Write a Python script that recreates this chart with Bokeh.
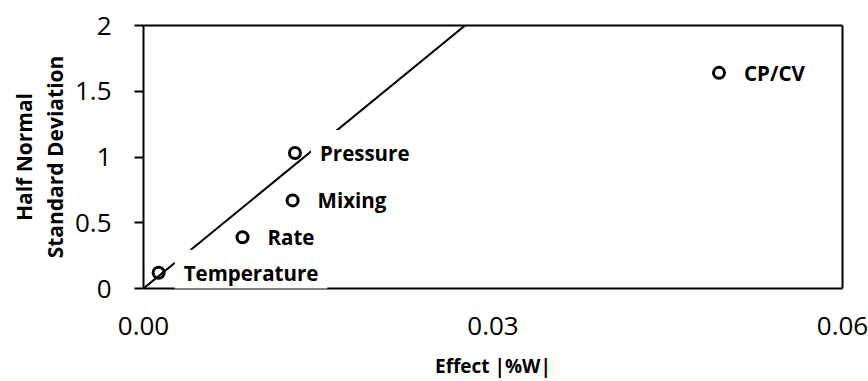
from bokeh.plotting import figure
from bokeh.models import ColumnDataSource, Label, Range1d, LinearAxis, FixedTicker
from bokeh.embed import file_html
from bokeh.resources import INLINE

# ---- data ----
factors = ["Temperature", "Rate", "Mixing", "Pressure", "CP/CV"]
effect = [0.0013, 0.0085, 0.0128, 0.0130, 0.0494]
half_normal = [0.12, 0.39, 0.67, 1.03, 1.64]
line_x = [0.0, 0.0276]
line_y = [0.0, 2.0]
x_ticks = [0.0, 0.03, 0.06]
x_tick_labels = ["0.00", "0.03", "0.06"]
y_ticks = [0, 0.5, 1, 1.5, 2]
y_tick_labels = ["0", "0.5", "1", "1.5", "2"]

FONT = "Open Sans"

src = ColumnDataSource(dict(x=effect, y=half_normal, name=factors))

p = figure(width=868, height=381, x_range=Range1d(0, 0.06), y_range=Range1d(0, 2),
           output_backend="svg", toolbar_location=None,
           min_border_left=143, min_border_right=26, min_border_top=25, min_border_bottom=93)
p.outline_line_color = None
p.xgrid.visible = False
p.ygrid.visible = False
p.background_fill_color = "white"
p.border_fill_color = "white"

# markers
p.scatter("x", "y", source=src, marker="circle", size=11, fill_color=None,
          line_color="black", line_width=3)
# reference line
p.line(line_x, line_y, line_color="black", line_width=2)

# axes
xa = p.xaxis[0]
xa.ticker = FixedTicker(ticks=x_ticks)
xa.major_label_overrides = {t: l for t, l in zip(x_ticks, x_tick_labels)}
xa.major_tick_out = 0
xa.major_tick_in = 0
xa.minor_tick_out = 0
xa.minor_tick_in = 0
xa.axis_line_color = "black"
xa.axis_line_width = 2
xa.major_label_standoff = 28
xa.major_label_text_font = FONT
xa.major_label_text_font_size = "26px"
xa.major_label_text_color = "black"
xa.axis_label = "Effect |%W|"
xa.axis_label_text_font = FONT
xa.axis_label_text_font_style = "bold"
xa.axis_label_text_font_size = "19px"
xa.axis_label_text_color = "black"
xa.axis_label_standoff = 15

ya = p.yaxis[0]
ya.ticker = FixedTicker(ticks=y_ticks)
ya.major_label_overrides = {t: l for t, l in zip(y_ticks, y_tick_labels)}
ya.major_tick_out = 9
ya.major_tick_in = 0
ya.minor_tick_out = 0
ya.minor_tick_in = 0
ya.major_tick_line_color = "black"
ya.major_tick_line_width = 2
ya.axis_line_color = "black"
ya.axis_line_width = 2
ya.major_label_standoff = 23
ya.major_label_text_font = FONT
ya.major_label_text_font_size = "26px"
ya.major_label_text_color = "black"
ya.axis_label = "Half Normal\nStandard Deviation"
ya.axis_label_text_font = FONT
ya.axis_label_text_font_style = "bold"
ya.axis_label_text_font_size = "21px"
ya.axis_label_text_color = "black"
ya.axis_label_text_line_height = 1.1
ya.axis_label_standoff = 3

# top and right frame lines
for side in ("above", "right"):
    ax = LinearAxis(ticker=FixedTicker(ticks=[]), axis_line_color="black", axis_line_width=2,
                    major_tick_out=0, major_tick_in=0, minor_tick_out=0, minor_tick_in=0,
                    major_label_text_font_size="0px")
    p.add_layout(ax, side)

# data labels with white boxes (Excel-style), one per point, built from the arrays
has_pad = "padding" in Label.properties()
for fx, fy, name in zip(effect, half_normal, factors):
    kw = dict(x=fx, y=fy, text=name, x_offset=16, y_offset=0,
              text_font=FONT, text_font_style="bold", text_font_size="20.5px",
              text_color="black", text_baseline="middle", text_align="left",
              background_fill_color="white", level="annotation")
    if has_pad:
        kw["padding"] = 9
    p.add_layout(Label(**kw))

open("out.html", "w").write(file_html(p, INLINE))
